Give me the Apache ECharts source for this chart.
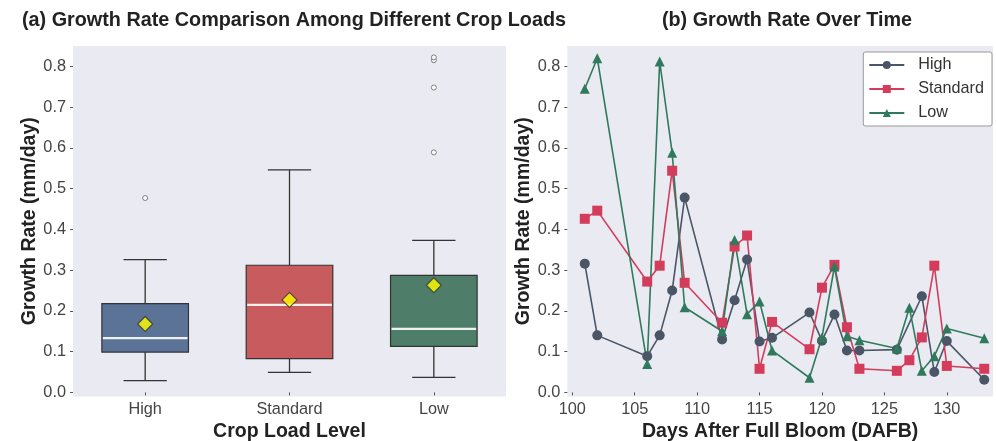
<!DOCTYPE html>
<html>
<head>
<meta charset="utf-8">
<script src="https://cdn.jsdelivr.net/npm/echarts@6/dist/echarts.min.js"></script>
<style>
html,body{margin:0;padding:0;background:#fff;}
#chart{width:996px;height:441px;}
</style>
</head>
<body>
<div id="chart"></div>
<script>
// ---- Panel (a): box statistics ----
const categories = ['High', 'Standard', 'Low'];
const boxMin    = [0.029, 0.049, 0.037];
const boxQ1     = [0.099, 0.083, 0.113];
const boxMedian = [0.133, 0.215, 0.156];
const boxQ3     = [0.218, 0.312, 0.287];
const boxMax    = [0.326, 0.546, 0.373];
const boxMean   = [0.168, 0.227, 0.263];
const highOutliers = [0.477];
const standardOutliers = [];
const lowOutliers = [0.589, 0.748, 0.815, 0.822];

// ---- Panel (b): growth rate over time ----
const highDays = [101,102,106,107,108,109,112,113,114,115,116,119,120,121,122,123,126,128,129,130,133];
const highRate = [0.316,0.140,0.089,0.140,0.250,0.478,0.130,0.226,0.326,0.125,0.134,0.196,0.127,0.191,0.103,0.103,0.105,0.236,0.050,0.126,0.031];
const stdDays = [101,102,106,107,108,109,112,113,114,115,116,119,120,121,122,123,126,127,128,129,130,133];
const stdRate = [0.426,0.446,0.272,0.311,0.544,0.269,0.171,0.358,0.385,0.058,0.173,0.106,0.257,0.313,0.160,0.058,0.053,0.079,0.135,0.311,0.065,0.058];
const lowDays = [101,102,106,107,108,109,112,113,114,115,116,119,120,121,122,123,126,127,128,129,130,133];
const lowRate = [0.745,0.820,0.070,0.812,0.588,0.209,0.150,0.374,0.192,0.223,0.103,0.036,0.135,0.309,0.138,0.128,0.108,0.208,0.053,0.089,0.157,0.133];

const yTicks = [0,0.1,0.2,0.3,0.4,0.5,0.6,0.7,0.8];
const xTicks = [100,105,110,115,120,125,130];

const boxColors = ['#5a7397', '#c85b5d', '#4e7e6a'];
const lineColors = ['#4a5665', '#d43c5c', '#2f7a5c'];
const FONT = '"Liberation Sans", Arial, sans-serif';
const tickColor = '#555';
const labelColor = '#444';
const bg = '#eaeaf2';
const TICK_FS = 16.3;
const NAME_FS = 19.5;
const TITLE_FS = 19.8;

const chart = echarts.init(document.getElementById('chart'), null, {renderer: 'canvas'});

const boxData = categories.map((c, i) => [i, boxMin[i], boxQ1[i], boxMedian[i], boxQ3[i], boxMax[i]]);
const outlierData = [];
[highOutliers, standardOutliers, lowOutliers].forEach((arr, i) => arr.forEach(v => outlierData.push([i, v])));
const meanData = categories.map((c, i) => [i, boxMean[i]]);

function renderBox(params, api) {
  const i = api.value(0);
  const band = api.size([1, 0])[0];
  const boxW = band * 0.6, capW = band * 0.3;
  const pMin = api.coord([i, api.value(1)]);
  const pQ1 = api.coord([i, api.value(2)]);
  const pMed = api.coord([i, api.value(3)]);
  const pQ3 = api.coord([i, api.value(4)]);
  const pMax = api.coord([i, api.value(5)]);
  const x = pMed[0];
  const ls = {stroke: '#333', lineWidth: 1.3};
  return {
    type: 'group',
    children: [
      {type: 'line', shape: {x1: x, y1: pQ3[1], x2: x, y2: pMax[1]}, style: ls},
      {type: 'line', shape: {x1: x, y1: pQ1[1], x2: x, y2: pMin[1]}, style: ls},
      {type: 'line', shape: {x1: x - capW/2, y1: pMax[1], x2: x + capW/2, y2: pMax[1]}, style: ls},
      {type: 'line', shape: {x1: x - capW/2, y1: pMin[1], x2: x + capW/2, y2: pMin[1]}, style: ls},
      {type: 'rect', shape: {x: x - boxW/2, y: pQ3[1], width: boxW, height: pQ1[1] - pQ3[1]},
       style: {fill: boxColors[i], stroke: '#333', lineWidth: 1.2}},
      {type: 'line', shape: {x1: x - boxW/2 + 1, y1: pMed[1], x2: x + boxW/2 - 1, y2: pMed[1]},
       style: {stroke: '#ffffff', lineWidth: 2.2, opacity: 0.9}}
    ]
  };
}

const valueAxisCommon = {
  type: 'value',
  min: -0.01,
  max: 0.85,
  splitLine: {show: false},
  axisLine: {show: false},
  axisTick: {show: true, length: 3, lineStyle: {color: tickColor}, customValues: yTicks},
  axisLabel: {color: labelColor, fontSize: TICK_FS, fontFamily: FONT, margin: 7, customValues: yTicks,
              formatter: v => v.toFixed(1)},
  nameLocation: 'middle',
  nameGap: 33,
  nameTextStyle: {fontSize: NAME_FS, fontWeight: 'bold', color: '#222', fontFamily: FONT}
};

const option = {
  backgroundColor: '#ffffff',
  animation: false,
  title: [
    {text: '(a) Growth Rate Comparison Among Different Crop Loads', left: 289, top: 6, textAlign: 'center',
     textStyle: {fontSize: TITLE_FS, fontWeight: 'bold', color: '#222', fontFamily: FONT}},
    {text: '(b) Growth Rate Over Time', left: 782, top: 6, textAlign: 'center',
     textStyle: {fontSize: TITLE_FS, fontWeight: 'bold', color: '#222', fontFamily: FONT}}
  ],
  grid: [
    {left: 73, right: 490, top: 46, bottom: 44.5, show: true, backgroundColor: bg, borderWidth: 0,
     containLabel: false, outerBoundsMode: 'none'},
    {left: 567.3, right: 3, top: 46, bottom: 44.5, show: true, backgroundColor: bg, borderWidth: 0,
     containLabel: false, outerBoundsMode: 'none'}
  ],
  xAxis: [
    {type: 'category', gridIndex: 0, data: categories, boundaryGap: true,
     axisLine: {show: false},
     axisTick: {show: true, alignWithLabel: true, length: 3, lineStyle: {color: tickColor}},
     axisLabel: {color: labelColor, fontSize: TICK_FS, fontFamily: FONT, margin: 5},
     name: 'Crop Load Level', nameLocation: 'middle', nameGap: 25, nameMoveOverlap: false,
     nameTextStyle: {fontSize: NAME_FS, fontWeight: 'bold', color: '#222', fontFamily: FONT}},
    {type: 'value', gridIndex: 1, min: 99.6, max: 133.7,
     splitLine: {show: false}, axisLine: {show: false},
     axisTick: {show: true, length: 3, lineStyle: {color: tickColor}, customValues: xTicks},
     axisLabel: {color: labelColor, fontSize: TICK_FS, fontFamily: FONT, margin: 5, customValues: xTicks},
     name: 'Days After Full Bloom (DAFB)', nameLocation: 'middle', nameGap: 25, nameMoveOverlap: false,
     nameTextStyle: {fontSize: NAME_FS, fontWeight: 'bold', color: '#222', fontFamily: FONT}}
  ],
  yAxis: [
    Object.assign({}, valueAxisCommon, {gridIndex: 0, name: 'Growth Rate (mm/day)'}),
    Object.assign({}, valueAxisCommon, {gridIndex: 1, name: 'Growth Rate (mm/day)'})
  ],
  legend: {
    data: ['High', 'Standard', 'Low'],
    orient: 'vertical',
    right: 4, top: 52,
    backgroundColor: '#ffffff',
    borderColor: '#999',
    borderWidth: 1,
    borderRadius: 2,
    padding: [5, 8, 5, 5],
    itemGap: 8,
    itemWidth: 35,
    itemHeight: 10,
    textStyle: {fontSize: 16.2, color: '#333', fontFamily: FONT, padding: [0, 0, 0, 9]}
  },
  series: [
    {type: 'custom', xAxisIndex: 0, yAxisIndex: 0, renderItem: renderBox, data: boxData,
     encode: {x: 0, y: [1,2,3,4,5]}, z: 2},
    {type: 'scatter', xAxisIndex: 0, yAxisIndex: 0, data: outlierData, symbol: 'circle', symbolSize: 5,
     itemStyle: {color: '#ffffff', borderColor: '#666', borderWidth: 1}, z: 3},
    {type: 'scatter', xAxisIndex: 0, yAxisIndex: 0, data: meanData, symbol: 'diamond', symbolSize: 15,
     itemStyle: {color: '#ffff00', borderColor: '#333', borderWidth: 1.2}, z: 4},
    {name: 'High', type: 'line', xAxisIndex: 1, yAxisIndex: 1,
     data: highDays.map((d, i) => [d, highRate[i]]), symbol: 'circle', symbolSize: 10,
     lineStyle: {color: lineColors[0], width: 1.6}, itemStyle: {color: lineColors[0]}, z: 3},
    {name: 'Standard', type: 'line', xAxisIndex: 1, yAxisIndex: 1,
     data: stdDays.map((d, i) => [d, stdRate[i]]), symbol: 'rect', symbolSize: 10,
     lineStyle: {color: lineColors[1], width: 1.6}, itemStyle: {color: lineColors[1]}, z: 3},
    {name: 'Low', type: 'line', xAxisIndex: 1, yAxisIndex: 1,
     data: lowDays.map((d, i) => [d, lowRate[i]]), symbol: 'triangle', symbolSize: 10,
     lineStyle: {color: lineColors[2], width: 1.6}, itemStyle: {color: lineColors[2]}, z: 3}
  ]
};
chart.setOption(option);
</script>
</body>
</html>
